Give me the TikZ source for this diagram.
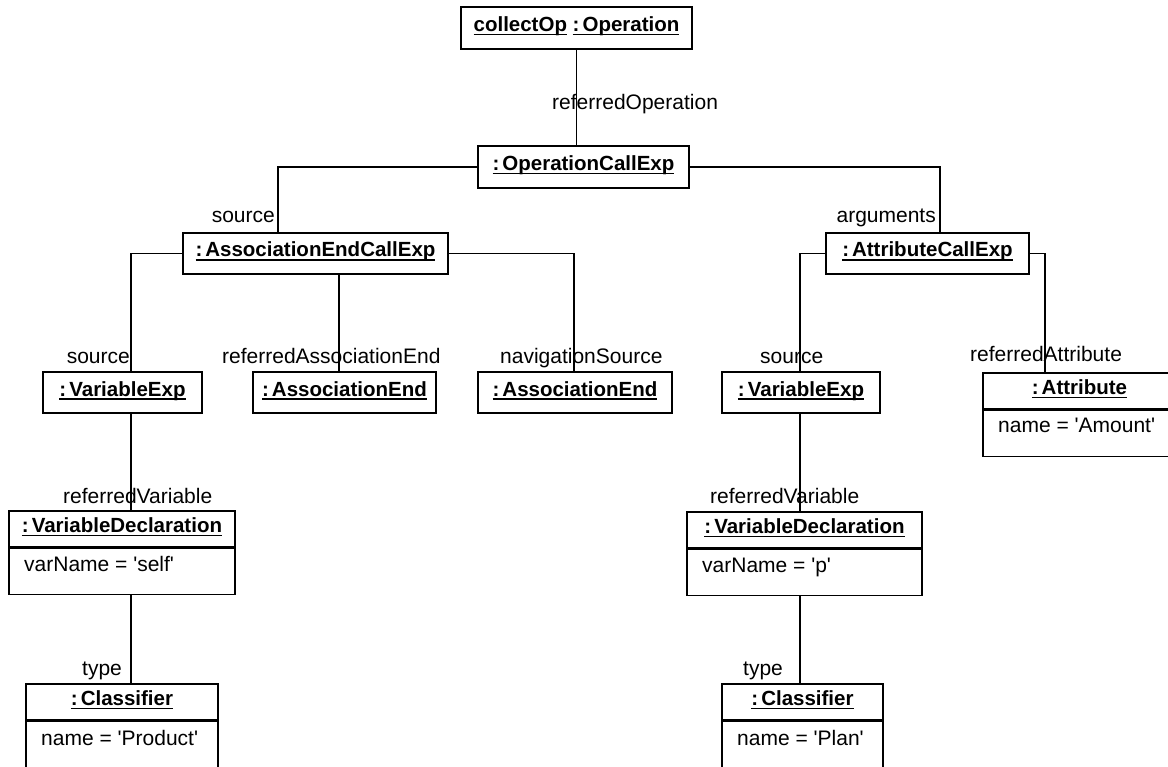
\documentclass[tikz,border=0pt]{standalone}
\usepackage{fontspec}
\setmainfont{Liberation Sans}
\newfontfamily\arial{Liberation Sans}
\newcommand\myul[1]{\setbox0\hbox{#1}\rlap{\rule[-3.8pt]{\wd0}{1.6pt}}\box0\relax}
\newcommand\cln{:\kern3pt}
\begin{document}
\begin{tikzpicture}[x=1pt,y=-1pt,
  objbox/.style={draw, line width=1.2pt, inner sep=0pt, fill=white,
    font=\arial\fontsize{20.5}{24}\selectfont\bfseries, text height=14pt, text depth=7pt},
  bodybox/.style={draw, line width=1.2pt, inner sep=0pt, anchor=north, fill=white},
  lbl/.style={inner sep=0pt, font=\arial\fontsize{21}{25}\selectfont},
  conn/.style={line width=1.2pt}]
\useasboundingbox (0,0) rectangle (1168,767);
\clip (0,0) rectangle (1168,767);

% object boxes
\node[objbox, minimum width=231, minimum height=42] (op) at (576.5,28) {\myul{collectOp} \myul{\cln Operation}};
\node[objbox, minimum width=211, minimum height=42] (ocx) at (583.5,167) {\myul{\cln OperationCallExp}};
\node[objbox, minimum width=265, minimum height=41] (aece) at (315.5,253.5) {\myul{\cln AssociationEndCallExp}};
\node[objbox, minimum width=203, minimum height=41] (ace) at (927.5,253.5) {\myul{\cln AttributeCallExp}};
\node[objbox, minimum width=159, minimum height=41] (ve1) at (122.5,392.5) {\myul{\cln VariableExp}};
\node[objbox, minimum width=183, minimum height=41] (ae1) at (344.5,392.5) {\myul{\cln AssociationEnd}};
\node[objbox, minimum width=194, minimum height=41] (ae2) at (575,392.5) {\myul{\cln AssociationEnd}};
\node[objbox, minimum width=158, minimum height=41] (ve2) at (801,392.5) {\myul{\cln VariableExp}};

\node[objbox, minimum width=193, minimum height=36] (attr) at (1079.5,391) {\myul{\cln Attribute}};
\node[bodybox, minimum width=193, minimum height=46] (attrb) at (attr.south) {};
\node[objbox, minimum width=226, minimum height=36] (vd1) at (122,529) {\myul{\cln VariableDeclaration}};
\node[bodybox, minimum width=226, minimum height=46] (vd1b) at (vd1.south) {};
\node[objbox, minimum width=235, minimum height=36] (vd2) at (804.5,530) {\myul{\cln VariableDeclaration}};
\node[bodybox, minimum width=235, minimum height=46] (vd2b) at (vd2.south) {};
\node[objbox, minimum width=192, minimum height=36] (cl1) at (122,702) {\myul{\cln Classifier}};
\node[bodybox, minimum width=192, minimum height=50] (cl1b) at (cl1.south) {};
\node[objbox, minimum width=161, minimum height=36] (cl2) at (802.5,702) {\myul{\cln Classifier}};
\node[bodybox, minimum width=161, minimum height=50] (cl2b) at (cl2.south) {};

% attribute values
\node[lbl, anchor=base west] (a1) at (998,432) {name = 'Amount'};
\node[lbl, anchor=base west] (a2) at (24,571) {varName = 'self'};
\node[lbl, anchor=base west] (a3) at (702,572) {varName = 'p'};
\node[lbl, anchor=base west] (a4) at (41,745) {name = 'Product'};
\node[lbl, anchor=base west] (a5) at (737,745) {name = 'Plan'};

% role labels
\node[lbl, anchor=base west] (l1) at (552,110) {referredOperation};
\node[lbl, anchor=base east] (l2) at (275,223) {source};
\node[lbl, anchor=base east] (l3) at (936,223) {arguments};
\node[lbl, anchor=base east] (l4) at (130,363) {source};
\node[lbl, anchor=base west] (l5) at (222,363) {referredAssociationEnd};
\node[lbl, anchor=base west] (l6) at (500,363) {navigationSource};
\node[lbl, anchor=base west] (l7) at (760,363) {source};
\node[lbl, anchor=base west] (l8) at (970,362) {referredAttribute};
\node[lbl, anchor=base west] (l9) at (63,503) {referredVariable};
\node[lbl, anchor=base west] (l10) at (710,503) {referredVariable};
\node[lbl, anchor=base west] (l11) at (82,675) {type};
\node[lbl, anchor=base west] (l12) at (743,675) {type};

% connector end points
\coordinate (j1) at (278,233);
\coordinate (j2) at (940,233);
\coordinate (j3) at (131,372);
\coordinate (j4) at (339,372);
\coordinate (j5) at (574,372);
\coordinate (j6) at (800,372);
\coordinate (j7) at (1045,373);
\coordinate (j8) at (131,511);
\coordinate (j9) at (800,512);
\coordinate (j10) at (131,684);
\coordinate (j11) at (800,684);

% connectors
\draw[conn] (op.south) -- (op.south |- ocx.north);
\draw[conn] (ocx.west) -| (j1);
\draw[conn] (ocx.east) -| (j2);
\draw[conn] (aece.west) -| (j3);
\draw[conn] (aece.south -| j4) -- (j4);
\draw[conn] (aece.east) -| (j5);
\draw[conn] (ace.west) -| (j6);
\draw[conn] (ace.east) -| (j7);
\draw[conn] (ve1.south -| j8) -- (j8);
\draw[conn] (ve2.south -| j9) -- (j9);
\draw[conn] (vd1b.south -| j10) -- (j10);
\draw[conn] (vd2b.south -| j11) -- (j11);
\end{tikzpicture}
\end{document}
